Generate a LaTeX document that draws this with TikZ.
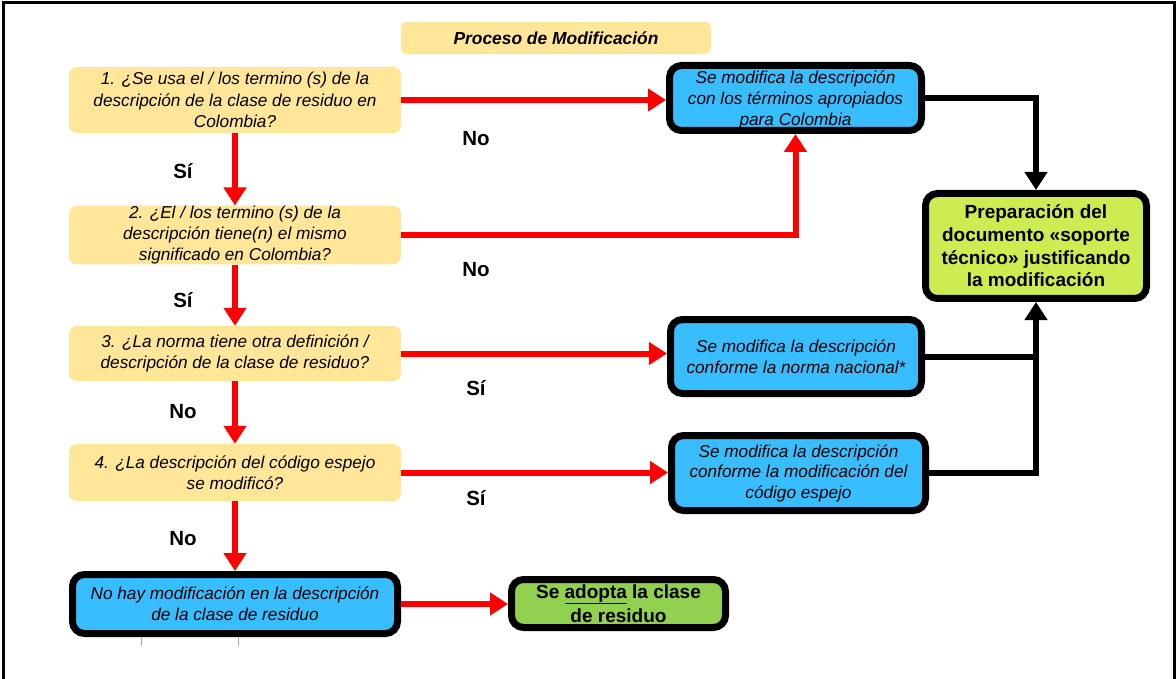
\documentclass[tikz,border=0pt]{standalone}
\usepackage{fontspec}
\setmainfont{Liberation Sans}
\usetikzlibrary{arrows.meta}
\definecolor{qyellow}{RGB}{255,230,153}
\definecolor{rblue}{RGB}{56,189,255}
\definecolor{agreen}{RGB}{146,208,80}
\definecolor{plime}{RGB}{204,236,82}
\definecolor{ared}{RGB}{255,0,0}
\tikzset{
  qbox/.style={draw=none, fill=qyellow, rounded corners=8pt, inner sep=0pt, align=center,
    minimum width=332pt, font=\fontsize{17.2}{21.3}\selectfont\itshape},
  rbox/.style={draw=black, line width=7pt, fill=rblue, rounded corners=12pt, inner sep=0pt, align=center,
    font=\fontsize{17.2}{21}\selectfont\itshape},
  gbox/.style={draw=black, line width=7pt, rounded corners=12pt, inner sep=0pt, align=center,
    font=\fontsize{19}{22.7}\selectfont\bfseries},
  lbl/.style={font=\fontsize{20.5}{22}\selectfont\bfseries, inner sep=0pt},
  redarrow/.style={draw=ared, line width=6pt, -{Triangle[length=18pt,width=22pt]}},
  blkarrow/.style={draw=black, line width=6pt, -{Triangle[length=18pt,width=22pt]}},
  blkline/.style={draw=black, line width=6pt},
}
\begin{document}
\begin{tikzpicture}[x=1pt,y=-1pt]
\useasboundingbox (0,0) rectangle (1176,679);
\draw[line width=3pt] (3,700) -- (3,3) -- (1174,3) -- (1174,700);

\node[draw=none, fill=qyellow, rounded corners=5pt, minimum width=310pt, minimum height=32pt, inner sep=0pt,
  font=\fontsize{17.4}{20}\selectfont\bfseries\itshape] (title) at (556,38) {Proceso de Modificación};

\node[qbox, minimum height=66pt] (q1) at (235,100) {1. ¿Se usa el / los termino (s) de la\\descripción de la clase de residuo en\\Colombia?};
\node[qbox, minimum height=56pt] (q2) at (235,235) {2. ¿El / los termino (s) de la\\descripción tiene(n) el mismo\\significado en Colombia?};
\node[qbox, minimum height=55pt] (q3) at (235,353.5) {3. ¿La norma tiene otra definición /\\descripción de la clase de residuo?};
\node[qbox, minimum height=57pt] (q4) at (235,472.5) {4. ¿La descripción del código espejo\\se modificó?};

\node[rbox, minimum width=325pt, minimum height=59pt] (nm) at (235,604) {No hay modificación en la descripción\\de la clase de residuo};
\node[gbox, fill=agreen, minimum width=214pt, minimum height=48pt, font=\fontsize{19}{24}\selectfont\bfseries] (ad) at (618.5,603.5) {Se \underline{adopta} la clase\\de residuo};

\node[rbox, minimum width=252pt, minimum height=65pt] (r1) at (795.5,98) {\rule{0pt}{17pt}Se modifica la descripción\\con los términos apropiados\\para Colombia};
\node[rbox, minimum width=251pt, minimum height=74pt] (r3) at (796,356.5) {Se modifica la descripción\\conforme la norma nacional*};
\node[rbox, minimum width=254pt, minimum height=75pt, font=\fontsize{17.2}{20.5}\selectfont\itshape] (r4) at (798.5,473) {Se modifica la descripción\\conforme la modificación del\\código espejo};

\node[gbox, fill=plime, minimum width=221pt, minimum height=105pt] (pr) at (1036,246) {Preparación del\\documento «soporte\\técnico» justificando\\la modificación};

% red connectors
\draw[redarrow] (q1.east) -- (r1.west |- q1.east);
\draw[redarrow] (q1.south) -- (q2.north);
\draw[redarrow] (q2.east) -| (r1.south);
\draw[redarrow] (q2.south) -- (q3.north);
\draw[redarrow] (q3.east) -- (r3.west |- q3.east);
\draw[redarrow] (q3.south) -- (q4.north);
\draw[redarrow] (q4.east) -- (r4.west |- q4.east);
\draw[redarrow] (q4.south) -- (nm.north);
\draw[redarrow] (nm.east) -- (ad.west |- nm.east);

% black connectors
\draw[blkarrow] (r1.east) -| (pr.north);
\draw[blkline] (r3.east) -- (r3.east -| pr.south);
\draw[blkarrow] (r4.east) -| (pr.south);

% labels
\node[lbl] (l1) at (476,139) {No};
\node[lbl] (l2) at (183,171) {Sí};
\node[lbl] (l3) at (476,270) {No};
\node[lbl] (l4) at (183,300) {Sí};
\node[lbl] (l5) at (476,388) {Sí};
\node[lbl] (l6) at (183,412) {No};
\node[lbl] (l7) at (476,498) {Sí};
\node[lbl] (l8) at (183,539) {No};

% small ticks
\draw[gray!70, line width=1pt] (141,637) -- (141,646);
\draw[gray!70, line width=1pt] (238,637) -- (238,646);
\end{tikzpicture}
\end{document}
